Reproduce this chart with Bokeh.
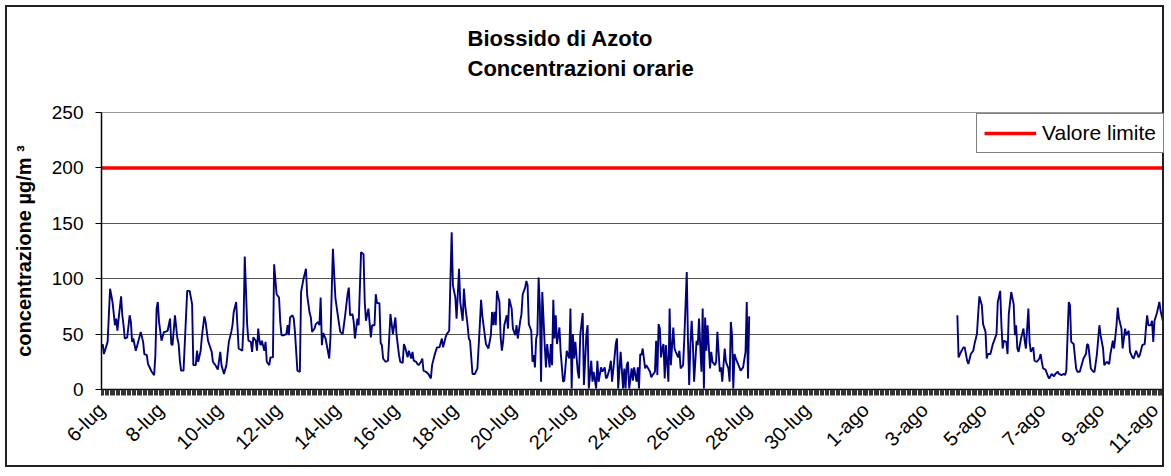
from bokeh.plotting import figure
from bokeh.models import FixedTicker, Range1d, Legend, LegendItem, Title
from bokeh.embed import file_html
from bokeh.resources import INLINE
import math

TITLE_1 = "Biossido di Azoto"
TITLE_2 = "Concentrazioni orarie"
Y_LABEL = "concentrazione µg/m ³"
LIMIT_LABEL = "Valore limite"
LIMIT_VALUE = 200

# x categories: hours since 6-lug 00:00, labelled every 2 days
tick_labels = ["6-lug", "8-lug", "10-lug", "12-lug", "14-lug", "16-lug", "18-lug",
               "20-lug", "22-lug", "24-lug", "26-lug", "28-lug", "30-lug", "1-ago",
               "3-ago", "5-ago", "7-ago", "9-ago", "11-ago"]
HOURS_PER_TICK = 48
X_END = 869
y_ticks = [0, 50, 100, 150, 200, 250]

# first block of hourly NO2 readings (6-lug .. 28-lug)
hours_a = [1, 2, 5, 7, 9, 11, 12, 13, 14, 16, 17, 18, 19, 21, 23, 24, 25, 26, 28, 30,
           32, 34, 35, 37, 38, 41, 43, 44, 45, 46, 47, 49, 51, 52, 54, 56, 57, 58, 60, 62,
           63, 64, 65, 67, 70, 72, 74, 75, 77, 78, 79, 81, 82, 84, 85, 87, 90, 91, 93, 95,
           97, 98, 100, 102, 104, 106, 107, 108, 110, 111, 112, 115, 116, 117, 119, 120, 122, 123, 124, 126,
           127, 128, 129, 130, 131, 133, 134, 135, 137, 138, 140, 141, 143, 145, 146, 147, 149, 151, 152, 153,
           154, 156, 157, 158, 160, 162, 163, 165, 167, 168, 170, 171, 172, 174, 175, 177, 178, 179, 180, 181,
           183, 186, 187, 189, 191, 193, 195, 197, 199, 201, 202, 203, 205, 206, 207, 209, 210, 212, 214, 215,
           216, 218, 220, 221, 223, 224, 225, 227, 228, 229, 230, 232, 234, 236, 238, 240, 241, 243, 244, 246,
           247, 248, 250, 251, 253, 254, 255, 257, 258, 259, 261, 262, 263, 265, 267, 269, 270, 272, 274, 276,
           278, 279, 281, 282, 284, 285, 286, 287, 289, 290, 291, 292, 293, 295, 296, 297, 299, 300, 301, 303,
           305, 307, 309, 310, 311, 312, 314, 316, 318, 319, 320, 321, 322, 323, 325, 326, 327, 328, 329, 331,
           332, 333, 335, 336, 338, 339, 340, 342, 343, 344, 346, 347, 348, 349, 351, 352, 353, 354, 355, 356,
           357, 358, 359, 360, 362, 363, 364, 366, 367, 368, 369, 370, 371, 372, 374, 375, 377, 378, 380, 382,
           383, 384, 385, 386, 387, 389, 390, 391, 393, 394, 396, 397, 398, 400, 401, 402, 404, 405, 406, 408,
           409, 411, 412, 413, 415, 416, 417, 419, 420, 421, 422, 424, 426, 427, 428, 429, 430, 431, 433, 434,
           435, 437, 438, 439, 440, 441, 442, 444, 445, 446, 448, 449, 450, 452, 453, 454, 455, 456, 457, 458,
           459, 460, 461, 463, 464, 465, 467, 468, 469, 471, 472, 473, 475, 476, 478, 479, 480, 481, 482, 483,
           484, 486, 487, 488, 490, 491, 492, 493, 494, 495, 497, 498, 499, 501, 502, 503, 505, 506, 507, 509,
           510, 512, 513, 514, 515, 516, 517, 518, 521, 522, 524, 526, 527, 528, 529]
no2_a = [41, 32, 43, 91, 79, 58, 64, 53, 64, 84, 67, 58, 46, 47, 67, 61, 43, 46, 35, 43,
         52, 43, 32, 31, 23, 16, 13, 31, 73, 79, 61, 44, 52, 52, 53, 64, 41, 40, 67, 46,
         41, 26, 17, 17, 89, 89, 77, 22, 22, 35, 25, 35, 48, 66, 61, 44, 34, 25, 22, 18,
         34, 22, 14, 22, 43, 52, 58, 70, 79, 58, 37, 35, 58, 120, 58, 44, 43, 34, 47, 44,
         35, 55, 44, 40, 44, 35, 43, 25, 22, 29, 29, 113, 86, 83, 61, 49, 49, 50, 58, 49,
         65, 67, 64, 52, 17, 16, 88, 100, 109, 85, 69, 65, 52, 55, 59, 61, 58, 83, 40, 51,
         46, 28, 47, 127, 83, 67, 52, 50, 67, 86, 92, 67, 68, 61, 46, 64, 58, 124, 122, 79,
         62, 73, 47, 58, 58, 86, 78, 78, 42, 40, 28, 25, 26, 68, 50, 65, 49, 31, 25, 24,
         41, 38, 29, 35, 28, 34, 26, 25, 23, 22, 25, 28, 17, 16, 14, 10, 22, 31, 38, 38,
         46, 38, 47, 50, 53, 100, 142, 94, 83, 64, 86, 109, 79, 62, 91, 76, 58, 46, 44, 14,
         14, 19, 58, 81, 67, 58, 41, 37, 49, 70, 58, 70, 58, 89, 79, 47, 35, 43, 58, 67,
         55, 82, 73, 55, 49, 58, 46, 62, 68, 86, 92, 98, 94, 59, 53, 25, 31, 20, 46, 50,
         101, 76, 7, 88, 40, 20, 41, 20, 41, 22, 81, 46, 67, 41, 56, 34, 7, 8, 35, 28,
         73, 1, 50, 28, 43, 16, 10, 49, 69, 4, 49, 58, 1, 26, 7, 16, 1, 26, 7, 20,
         16, 20, 10, 11, 19, 26, 7, 29, 41, 46, 1, 34, 1, 19, 1, 22, 25, 1, 19, 8,
         20, 7, 20, 1, 32, 31, 37, 19, 22, 20, 16, 11, 13, 16, 44, 13, 59, 55, 29, 37,
         41, 10, 40, 7, 73, 22, 56, 37, 34, 29, 35, 19, 22, 46, 106, 44, 4, 41, 62, 41,
         7, 44, 40, 64, 16, 73, 1, 65, 35, 58, 19, 34, 25, 22, 25, 52, 16, 20, 7, 37,
         25, 19, 7, 61, 49, 1, 32, 28, 20, 17, 20, 34, 79, 10, 66]

# second block of hourly NO2 readings (4-ago .. 11-ago)
hours_b = [699, 700, 702, 704, 705, 707, 708, 710, 712, 713, 715, 716, 717, 719, 720, 722, 723, 724, 726, 728,
           730, 731, 732, 734, 735, 736, 737, 739, 740, 741, 743, 745, 746, 747, 748, 749, 751, 753, 754, 755,
           757, 758, 759, 761, 762, 764, 766, 767, 768, 769, 771, 773, 774, 776, 778, 779, 781, 782, 784, 786,
           787, 788, 790, 791, 792, 794, 796, 797, 799, 800, 802, 804, 805, 806, 808, 810, 811, 813, 815, 816,
           818, 819, 821, 823, 824, 826, 827, 829, 830, 831, 833, 834, 836, 837, 839, 840, 842, 843, 845, 847,
           848, 850, 852, 853, 854, 855, 857, 858, 859, 860, 862, 864, 865, 867, 868]
no2_b = [67, 29, 34, 38, 38, 26, 23, 32, 35, 41, 50, 68, 84, 76, 59, 52, 28, 32, 32, 41,
         47, 50, 79, 89, 58, 37, 44, 43, 32, 68, 88, 77, 49, 58, 37, 34, 46, 55, 44, 37,
         73, 43, 34, 38, 26, 25, 28, 32, 25, 19, 18, 12, 10, 14, 12, 14, 16, 14, 13, 14,
         13, 17, 79, 76, 43, 41, 19, 16, 16, 20, 28, 32, 41, 40, 19, 16, 16, 32, 58, 49,
         37, 22, 25, 23, 32, 44, 37, 58, 74, 64, 55, 37, 55, 49, 53, 34, 29, 28, 35, 29,
         31, 40, 41, 55, 67, 58, 58, 62, 43, 62, 69, 79, 71, 61, 35]

FONT = "Liberation Sans"

p = figure(width=1159, height=462, x_range=Range1d(0, X_END), y_range=Range1d(0, 250),
           output_backend="svg", toolbar_location=None,
           min_border_left=94, min_border_right=1, min_border_top=104, min_border_bottom=80)
p.styles = {"border": "2px solid #222222", "margin": "5px 0px 0px 5px"}
p.background_fill_color = "white"
p.border_fill_color = "white"
p.outline_line_color = "#999999"
p.outline_line_width = 1

# two-line title
p.title.text = TITLE_1 + "\n" + TITLE_2
p.title.align = "left"
p.title.offset = 366
p.title.vertical_align = "top"
p.title.text_color = "black"
p.title.text_font = FONT
p.title.text_font_size = "22px"
p.title.text_font_style = "bold"
p.title.standoff = 36
if "text_line_height" in p.title.properties():
    p.title.text_line_height = 1.22
# thin empty spacer between the title and the plot frame
p.add_layout(Title(text=" ", text_font_size="1px", standoff=8), "above")

# series
r_lim = p.line([0, X_END], [LIMIT_VALUE, LIMIT_VALUE], line_color="#ff0000", line_width=3.5)
p.line(hours_a, no2_a, line_color="#000080", line_width=1.9)
p.line(hours_b, no2_b, line_color="#000080", line_width=1.9)

# x axis
major = [i * HOURS_PER_TICK for i in range(len(tick_labels))]
p.xaxis.ticker = FixedTicker(ticks=major, minor_ticks=list(range(0, X_END + 1)))
p.xaxis.major_label_overrides = {m: lab for m, lab in zip(major, tick_labels)}
p.xaxis.major_label_orientation = math.pi / 4
p.xaxis.major_label_text_font = FONT
p.xaxis.major_label_text_font_size = "20px"
p.xaxis.major_label_text_color = "black"
p.xaxis.major_label_standoff = 11
p.xaxis.major_tick_in = 0
p.xaxis.major_tick_out = 6
p.xaxis.minor_tick_in = 0
p.xaxis.minor_tick_out = 6
p.xaxis.minor_tick_line_color = "#333333"
p.xaxis.axis_line_color = "black"
p.xaxis.axis_line_width = 1.5

# y axis
p.yaxis.ticker = FixedTicker(ticks=y_ticks)
p.yaxis.major_label_text_font = FONT
p.yaxis.major_label_text_font_size = "19px"
p.yaxis.major_label_text_color = "black"
p.yaxis.major_label_standoff = 12
p.yaxis.major_tick_in = 0
p.yaxis.major_tick_out = 6
p.yaxis.minor_tick_line_color = None
p.yaxis.axis_line_color = "black"
p.yaxis.axis_line_width = 1.5
p.yaxis.axis_label = Y_LABEL
p.yaxis.axis_label_text_font = FONT
p.yaxis.axis_label_text_font_size = "20px"
p.yaxis.axis_label_text_font_style = "bold"
p.yaxis.axis_label_text_color = "black"
p.yaxis.axis_label_standoff = 14

p.xgrid.visible = False
p.ygrid.ticker = FixedTicker(ticks=y_ticks[1:-1])
p.ygrid.grid_line_color = "#555555"
p.ygrid.grid_line_width = 1

legend = Legend(items=[LegendItem(label=LIMIT_LABEL, renderers=[r_lim])],
                location="top_right", orientation="vertical")
legend.label_text_font = FONT
legend.label_text_font_size = "21px"
legend.label_text_color = "black"
legend.glyph_width = 52
legend.glyph_height = 20
legend.label_standoff = 6
legend.padding = 7
legend.spacing = 0
legend.margin = 1
legend.border_line_color = "black"
legend.border_line_width = 1
legend.background_fill_color = "white"
legend.background_fill_alpha = 1
p.add_layout(legend)

open("out.html", "w").write(file_html(p, INLINE))
